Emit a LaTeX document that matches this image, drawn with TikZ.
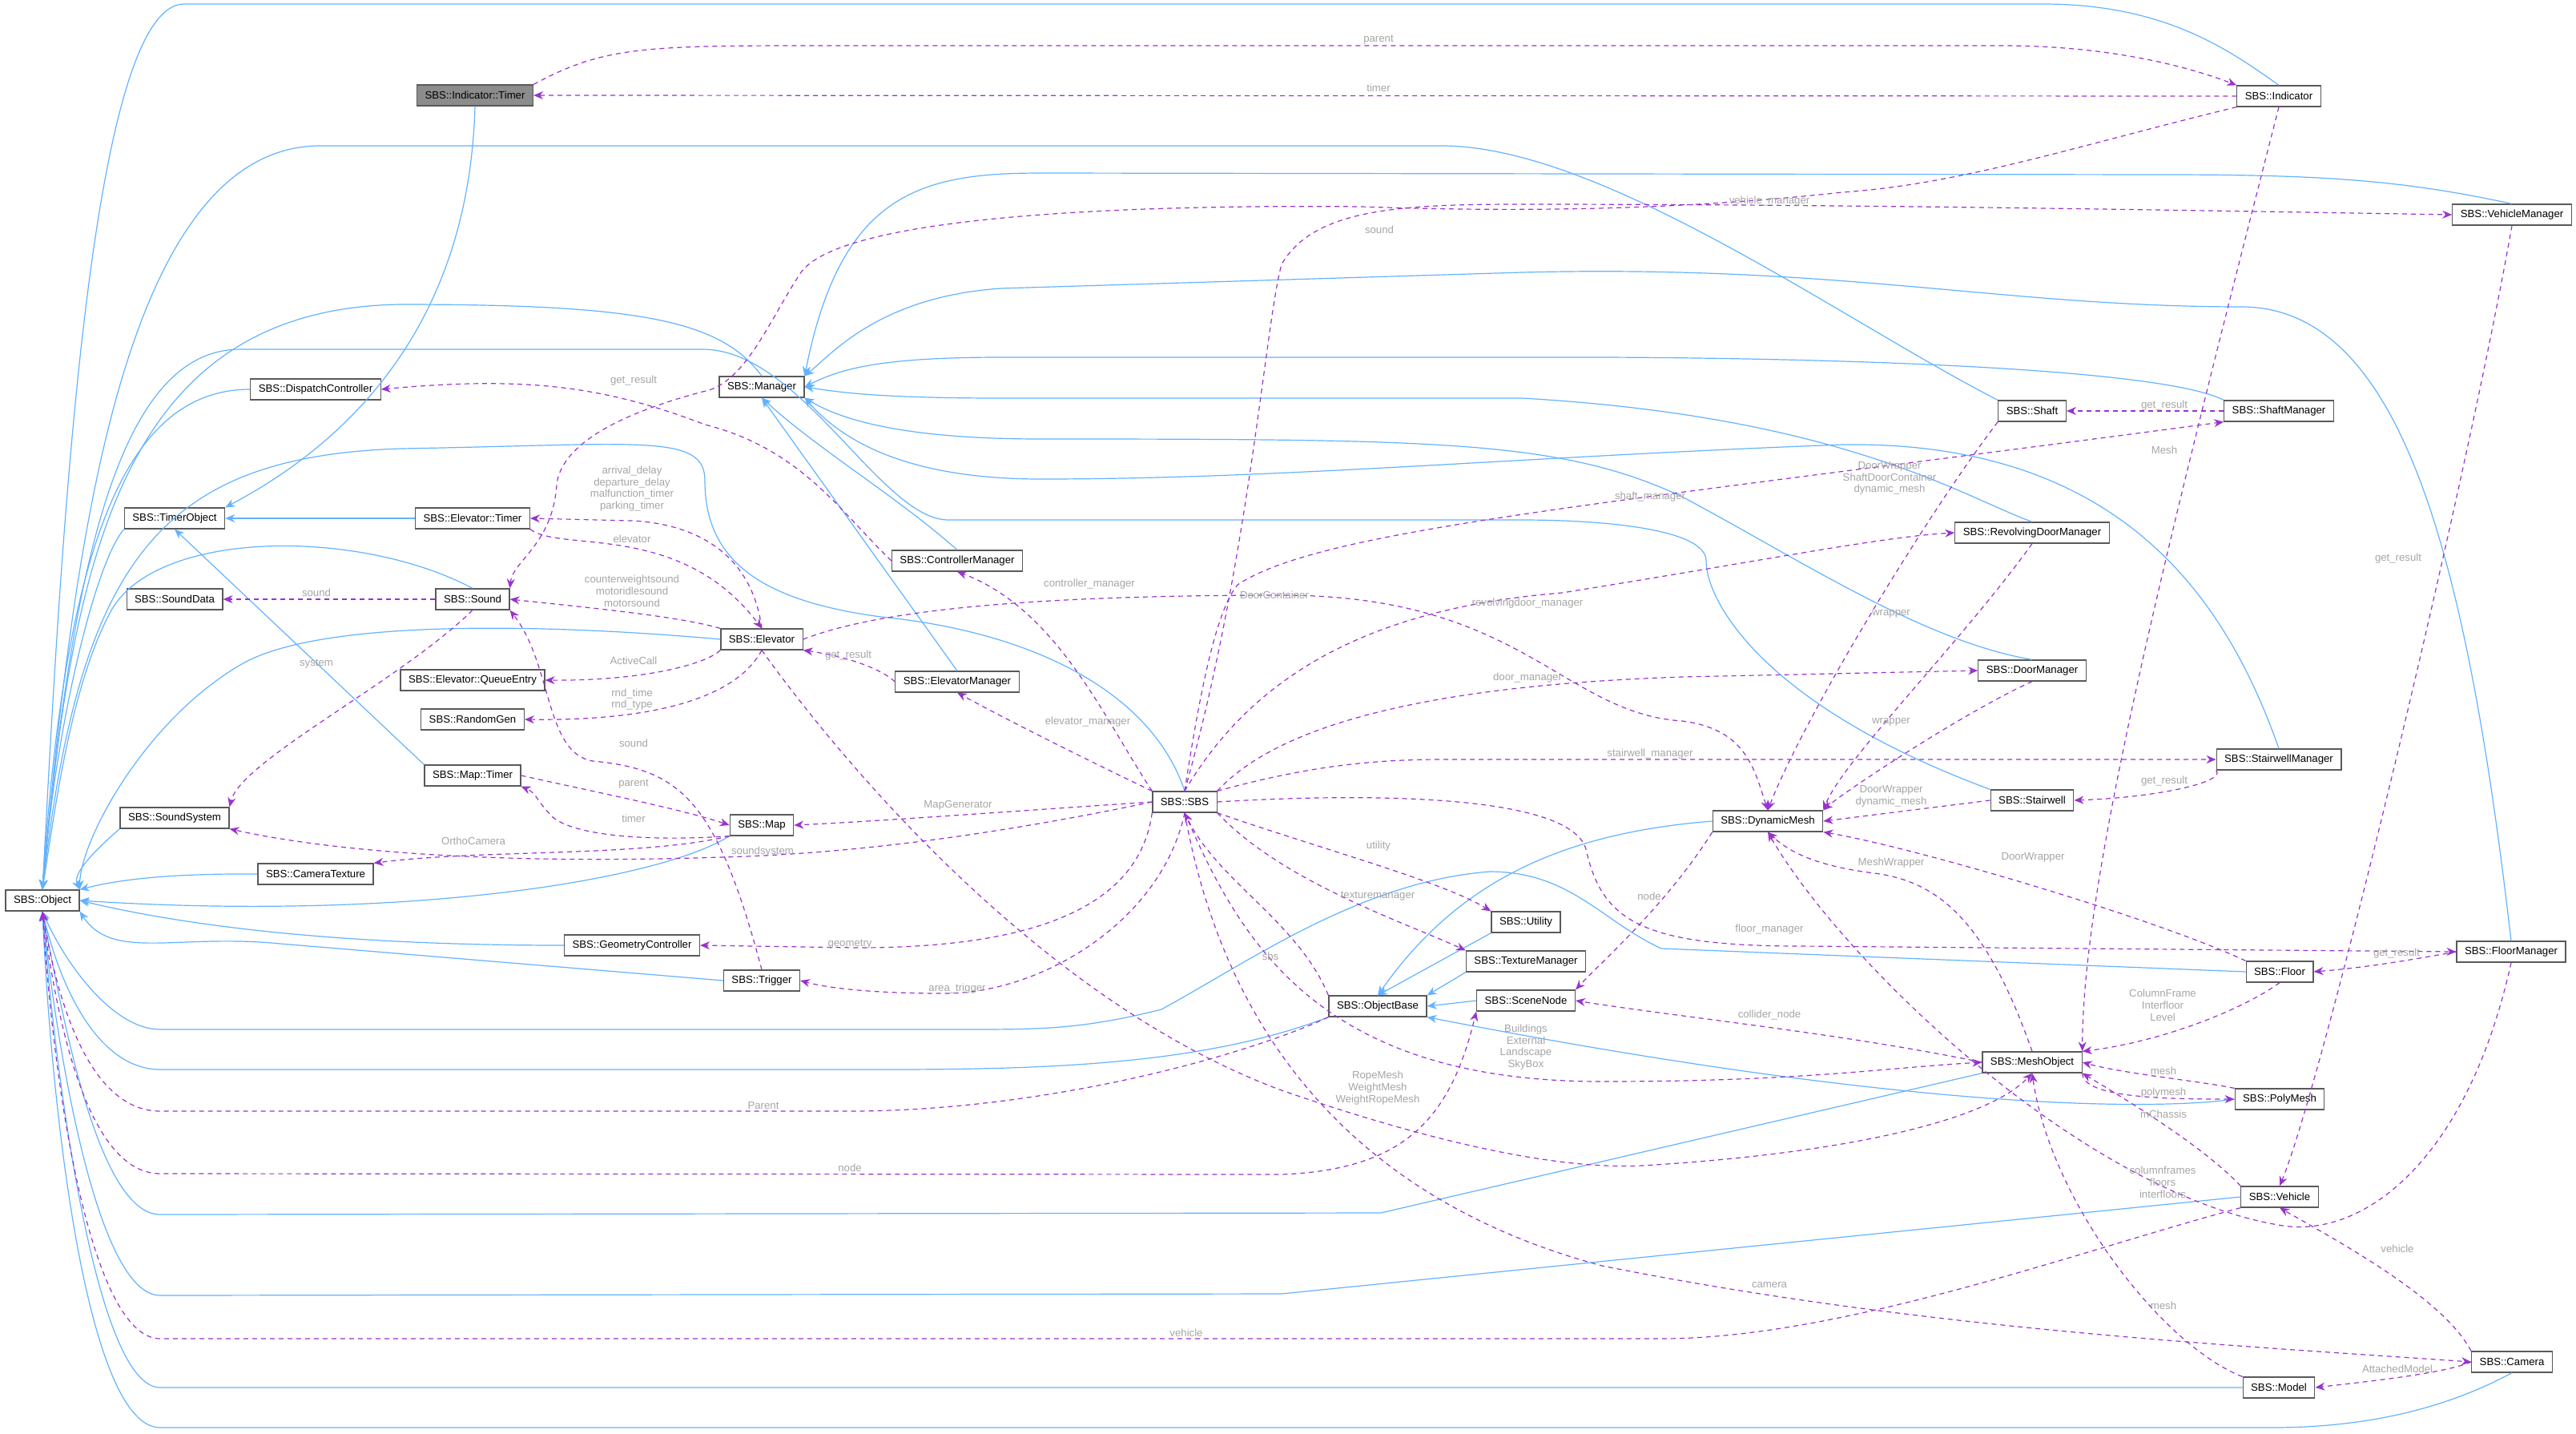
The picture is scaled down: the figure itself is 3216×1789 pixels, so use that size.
\documentclass[tikz,border=0pt]{standalone}
\usepackage{fontspec}
\setmainfont{Liberation Sans}
\usetikzlibrary{arrows.meta}
\definecolor{inhc}{RGB}{99,178,255}
\definecolor{usec}{RGB}{153,51,204}
\definecolor{lblc}{RGB}{165,165,165}
\begin{document}
\begin{tikzpicture}[x=0.5pt,y=-0.5pt,
 box/.style={draw=black!65,fill=white,line width=0.6pt,minimum height=13pt,inner xsep=5pt,inner ysep=0pt,font=\fontsize{6.6}{7.5}\selectfont},
 inh/.style={draw=inhc,line width=0.6pt,-{Stealth[length=6pt,width=5pt]}},
 use/.style={draw=usec,line width=0.6pt,dash pattern=on 3pt off 2.5pt,-{Stealth[length=6pt,width=5pt]}},
 lbl/.style={text=lblc,font=\fontsize{6.6}{7.4}\selectfont,align=center,inner sep=0pt}]
\useasboundingbox (0,0) rectangle (3216,1789);
% nodes
\node[box,fill=black!45] (IT) at (593,119) {SBS::Indicator::Timer};
\node[box] (Ind) at (2845,120) {SBS::Indicator};
\node[box] (VM) at (3136,268) {SBS::VehicleManager};
\node[box] (Man) at (951,483) {SBS::Manager};
\node[box] (DC) at (394,486) {SBS::DispatchController};
\node[box] (TO) at (218,647) {SBS::TimerObject};
\node[box] (ET) at (590,647) {SBS::Elevator::Timer};
\node[box] (Snd) at (590,748) {SBS::Sound};
\node[box] (SD) at (218,748) {SBS::SoundData};
\node[box] (Elev) at (951,798) {SBS::Elevator};
\node[box] (QE) at (590,849) {SBS::Elevator::QueueEntry};
\node[box] (RG) at (590,898) {SBS::RandomGen};
\node[box] (MT) at (590,968) {SBS::Map::Timer};
\node[box] (SS) at (218,1021) {SBS::SoundSystem};
\node[box] (Map) at (951,1030) {SBS::Map};
\node[box] (CT) at (394,1091) {SBS::CameraTexture};
\node[box] (Obj) at (53,1124) {SBS::Object};
\node[box] (GC) at (789,1180) {SBS::GeometryController};
\node[box] (Trig) at (951,1224) {SBS::Trigger};
\node[box] (CM) at (1195,700) {SBS::ControllerManager};
\node[box] (EM) at (1195,851) {SBS::ElevatorManager};
\node[box] (SBS) at (1479,1001) {SBS::SBS};
\node[box] (Shaft) at (2537,513) {SBS::Shaft};
\node[box] (ShM) at (2845,513) {SBS::ShaftManager};
\node[box] (RDM) at (2537,665) {SBS::RevolvingDoorManager};
\node[box] (DM) at (2537,837) {SBS::DoorManager};
\node[box] (SWM) at (2845,948) {SBS::StairwellManager};
\node[box] (SW) at (2537,999) {SBS::Stairwell};
\node[box] (DMesh) at (2207,1025) {SBS::DynamicMesh};
\node[box] (Util) at (1905,1151) {SBS::Utility};
\node[box] (TM) at (1905,1200) {SBS::TextureManager};
\node[box] (SN) at (1905,1249) {SBS::SceneNode};
\node[box] (OB) at (1720,1256) {SBS::ObjectBase};
\node[box] (MO) at (2537,1326) {SBS::MeshObject};
\node[box] (PM) at (2846,1372) {SBS::PolyMesh};
\node[box] (Floor) at (2846,1213) {SBS::Floor};
\node[box] (FM) at (3135,1188) {SBS::FloorManager};
\node[box] (Veh) at (2846,1494) {SBS::Vehicle};
\node[box] (Cam) at (3136,1700) {SBS::Camera};
\node[box] (Model) at (2845,1732) {SBS::Model};
% inheritance
\begin{scope}[on background layer/.style={}]
\draw[inh] (IT.south) .. controls (585,420) and (420,560) .. (TO.north east);
\draw[inh] (Ind.north) .. controls (2780,60) and (2700,5) .. (2550,5) -- (230,5) .. controls (110,5) and (75,700) .. (Obj.north);
\draw[inh] (VM.north) .. controls (3000,225) and (2900,218) .. (2700,218) -- (1300,216) .. controls (1150,216) and (1050,240) .. (Man.north east);
\draw[inh] (Man.north) .. controls (900,400) and (800,380) .. (500,380) .. controls (150,385) and (90,700) .. (Obj.north);
\draw[inh] (DC.west) .. controls (150,486) and (80,700) .. (Obj.north);
\draw[inh] (TO.south west) .. controls (120,700) and (70,900) .. (Obj.north);
\draw[inh] (ET.west) -- (TO.east);
\draw[inh] (Snd.north) .. controls (450,660) and (200,660) .. (140,760) .. controls (90,850) and (70,1000) .. (Obj.north);
\draw[inh] (Elev.west) .. controls (700,780) and (400,770) .. (300,830) .. controls (180,900) and (100,1050) .. (Obj.north east);
\draw[inh] (MT.north west) -- (TO.south);
\draw[inh] (SS.south west) .. controls (120,1060) and (90,1090) .. (Obj.north east);
\draw[inh] (Map.south west) .. controls (820,1100) and (500,1150) .. (Obj.east);
\draw[inh] (CT.west) .. controls (200,1090) and (140,1100) .. (Obj.north east);
\draw[inh] (GC.west) .. controls (450,1180) and (250,1160) .. (Obj.east);
\draw[inh] (Trig.west) -- (350,1178) .. controls (220,1165) and (140,1200) .. (Obj.south east);
\draw[inh] (CM.north) .. controls (1120,620) and (1020,560) .. (Man.south);
\draw[inh] (EM.north) -- (Man.south);
\draw[inh] (SBS.north) .. controls (1440,870) and (1300,790) .. (1100,770) .. controls (950,750) and (880,700) .. (880,600) .. controls (880,540) and (800,555) .. (500,560) .. controls (200,570) and (100,700) .. (Obj.north);
\draw[inh] (Shaft.north west) .. controls (2300,400) and (2000,182) .. (1800,182) -- (400,182) .. controls (150,182) and (90,700) .. (Obj.north);
\draw[inh] (ShM.north west) .. controls (2700,460) and (2300,447) .. (2000,446) -- (1250,446) .. controls (1100,446) and (1050,460) .. (Man.east);
\draw[inh] (RDM.north) .. controls (2450,620) and (2300,520) .. (1900,497) -- (1250,497) .. controls (1100,497) and (1050,490) .. (Man.east);
\draw[inh] (SWM.north) .. controls (2780,750) and (2650,550) .. (2300,555) .. controls (1900,570) and (1600,598) .. (1300,598) .. controls (1150,598) and (1060,560) .. (Man.south east);
\draw[inh] (DM.north) .. controls (2400,800) and (2250,700) .. (2100,620) .. controls (1950,550) and (1800,548) .. (1300,548) .. controls (1150,548) and (1060,530) .. (Man.south east);
\draw[inh] (FM.north) .. controls (3080,700) and (3000,385) .. (2800,383) .. controls (2500,383) and (2300,330) .. (1900,340) -- (1250,360) .. controls (1100,370) and (1040,440) .. (Man.north east);
\draw[inh] (SW.north west) .. controls (2200,880) and (2130,750) .. (2130,700) .. controls (2130,660) and (2000,649) .. (1900,649) -- (1184,649) .. controls (1100,649) and (1000,436) .. (877,436) -- (300,436) .. controls (150,436) and (90,700) .. (Obj.north);
\draw[inh] (DMesh.west) .. controls (1950,1040) and (1820,1100) .. (OB.north);
\draw[inh] (Util.south west) -- (OB.north);
\draw[inh] (TM.south west) -- (OB.north east);
\draw[inh] (SN.west) -- (OB.east);
\draw[inh] (PM.west) .. controls (2700,1385) and (2400,1390) .. (OB.south east);
\draw[inh] (OB.south west) .. controls (1500,1330) and (1300,1335) .. (1100,1335) -- (200,1335) .. controls (130,1335) and (80,1250) .. (Obj.south);
\draw[inh] (Floor.west) -- (2074,1184) .. controls (2000,1150) and (1960,1088) .. (1860,1088) .. controls (1700,1100) and (1560,1200) .. (1450,1260) .. controls (1350,1285) and (1300,1285) .. (1200,1285) -- (200,1285) .. controls (140,1285) and (80,1200) .. (Obj.south);
\draw[inh] (MO.south west) -- (1724,1514) -- (200,1516) .. controls (120,1516) and (75,1250) .. (Obj.south);
\draw[inh] (Veh.west) -- (1600,1615) -- (200,1617) .. controls (120,1617) and (70,1300) .. (Obj.south);
\draw[inh] (Model.west) -- (200,1732) .. controls (120,1732) and (70,1350) .. (Obj.south);
\draw[inh] (Cam.south) .. controls (3050,1760) and (2950,1782) .. (2836,1782) -- (200,1782) .. controls (110,1782) and (65,1400) .. (Obj.south);
\end{scope}
% usage
\draw[use] (Ind.west) -- (IT.east);
\draw[use] (IT.north east) .. controls (750,60) and (800,57) .. (1000,57) -- (2500,57) .. controls (2650,57) and (2750,90) .. (Ind.north west);
\draw[use] (Ind.south west) .. controls (2600,180) and (2450,230) .. (2300,240) .. controls (2100,262) and (1900,265) .. (1700,258) .. controls (1400,255) and (1050,270) .. (1000,340) .. controls (960,400) and (930,480) .. (877,489) .. controls (760,520) and (700,560) .. (695,605) .. controls (690,680) and (640,700) .. (Snd.north east);
\draw[use] (Ind.south) .. controls (2700,700) and (2600,1100) .. (MO.north east);
\draw[use] (SBS.north) .. controls (1560,700) and (1580,400) .. (1600,330) .. controls (1640,260) and (1750,255) .. (1900,255) .. controls (2300,255) and (2700,262) .. (VM.west);
\draw[use] (VM.south) .. controls (3080,600) and (2900,1350) .. (Veh.north);
\draw[use] (CM.west) .. controls (1050,640) and (1000,560) .. (880,530) .. controls (750,480) and (650,470) .. (DC.east);
\draw[use] (Elev.north) .. controls (940,700) and (880,655) .. (790,650) -- (ET.east);
\draw[use] (ET.south east) .. controls (700,690) and (850,650) .. (Elev.north);
\draw[use] (Elev.north west) .. controls (850,770) and (750,760) .. (Snd.east);
\draw[use] (Snd.west) -- (SD.east);
\draw[use] (Snd.south) .. controls (500,850) and (300,950) .. (SS.north east);
\draw[use] (Elev.south west) .. controls (880,830) and (800,850) .. (QE.east);
\draw[use] (Elev.south) .. controls (920,870) and (820,900) .. (RG.east);
\draw[use] (Trig.north) .. controls (895,1000) and (850,960) .. (740,950) .. controls (680,940) and (690,830) .. (Snd.south east);
\draw[use] (MT.east) .. controls (750,990) and (850,1010) .. (Map.west);
\draw[use] (Map.south west) .. controls (820,1050) and (720,1045) .. (690,1020) .. controls (670,1000) and (670,990) .. (MT.south east);
\draw[use] (Map.south west) .. controls (800,1070) and (600,1060) .. (CT.north east);
\draw[use] (SBS.west) .. controls (1300,1030) and (1100,1065) .. (900,1070) .. controls (600,1080) and (400,1060) .. (SS.south east);
\draw[use] (SBS.west) .. controls (1300,1010) and (1100,1025) .. (Map.east);
\draw[use] (EM.west) .. controls (1100,835) and (1060,820) .. (Elev.south east);
\draw[use] (SBS.north west) .. controls (1380,900) and (1320,760) .. (CM.south);
\draw[use] (SBS.north west) .. controls (1360,950) and (1260,900) .. (EM.south);
\draw[use] (SBS.north) .. controls (1500,850) and (1520,760) .. (1545,730) .. controls (1650,660) and (2000,630) .. (ShM.south west);
\draw[use] (Elev.east) .. controls (1100,760) and (1300,743) .. (1600,743) .. controls (1900,743) and (1950,890) .. (2100,900) .. controls (2180,910) and (2190,960) .. (DMesh.north);
\draw[use] (SBS.north) .. controls (1560,850) and (1700,760) .. (1950,740) .. controls (2200,700) and (2350,670) .. (RDM.west);
\draw[use] (SBS.north east) .. controls (1600,900) and (1800,855) .. (2100,845) -- (DM.west);
\draw[use] (SBS.north east) .. controls (1620,960) and (1700,948) .. (1800,948) -- (SWM.west);
\draw[use] (Shaft.south west) .. controls (2400,650) and (2250,900) .. (DMesh.north);
\draw[use] (ShM.west) -- (Shaft.east);
\draw[use] (RDM.south) .. controls (2450,800) and (2300,950) .. (DMesh.north east);
\draw[use] (DM.south) .. controls (2450,890) and (2300,990) .. (DMesh.north east);
\draw[use] (SWM.south west) .. controls (2780,975) and (2700,995) .. (SW.east);
\draw[use] (SW.west) -- (DMesh.east);
\draw[use] (SBS.south east) .. controls (1650,1060) and (1800,1100) .. (Util.north west);
\draw[use] (SBS.south east) .. controls (1600,1100) and (1750,1150) .. (TM.north west);
\draw[use] (SBS.south west) .. controls (1420,1150) and (1250,1183) .. (1070,1183) -- (GC.east);
\draw[use] (SBS.south) .. controls (1450,1150) and (1300,1240) .. (1180,1240) .. controls (1100,1240) and (1040,1235) .. (Trig.east);
\draw[use] (OB.north west) .. controls (1620,1150) and (1520,1100) .. (SBS.south);
\draw[use] (DMesh.south west) .. controls (2080,1130) and (2000,1200) .. (SN.north east);
\draw[use] (SBS.east) .. controls (1700,990) and (1960,990) .. (1980,1060) .. controls (2000,1150) and (2050,1181) .. (2250,1181) -- (FM.west);
\draw[use] (FM.west) .. controls (3000,1200) and (2950,1208) .. (Floor.east);
\draw[use] (Floor.north west) .. controls (2700,1150) and (2400,1060) .. (DMesh.south east);
\draw[use] (MO.north) .. controls (2480,1150) and (2420,1100) .. (2340,1090) .. controls (2260,1080) and (2230,1060) .. (DMesh.south);
\draw[use] (Floor.south) .. controls (2800,1260) and (2700,1300) .. (MO.north east);
\draw[use] (MO.west) .. controls (2300,1290) and (2100,1270) .. (SN.east);
\draw[use] (SBS.south) .. controls (1550,1180) and (1650,1350) .. (2000,1350) .. controls (2250,1350) and (2350,1333) .. (MO.west);
\draw[use] (Elev.south) .. controls (1050,950) and (1300,1250) .. (1600,1361) .. controls (1800,1430) and (1950,1460) .. (2050,1455) .. controls (2300,1440) and (2480,1400) .. (MO.south);
\draw[use] (OB.south west) .. controls (1550,1320) and (1300,1387) .. (1060,1387) -- (200,1387) .. controls (130,1387) and (80,1300) .. (Obj.south);
\draw[use] (Obj.south) .. controls (80,1350) and (130,1465) .. (200,1465) -- (1600,1466) .. controls (1750,1460) and (1810,1400) .. (SN.south west);
\draw[use] (PM.north west) .. controls (2750,1350) and (2650,1340) .. (MO.east);
\draw[use] (MO.south east) .. controls (2600,1370) and (2700,1372) .. (PM.west);
\draw[use] (Veh.north west) .. controls (2750,1430) and (2650,1370) .. (MO.south east);
\draw[use] (FM.south) .. controls (3080,1450) and (2950,1545) .. (2850,1530) .. controls (2600,1490) and (2300,1200) .. (DMesh.south);
\draw[use] (Veh.south west) .. controls (2600,1560) and (2300,1671) .. (2074,1671) -- (200,1671) .. controls (120,1671) and (70,1400) .. (Obj.south);
\draw[use] (SBS.south) .. controls (1530,1300) and (1700,1500) .. (2000,1580) .. controls (2400,1660) and (2800,1680) .. (Cam.west);
\draw[use] (Model.north west) .. controls (2700,1680) and (2560,1500) .. (MO.south);
\draw[use] (Cam.north west) .. controls (3050,1620) and (2920,1550) .. (Veh.south);
\draw[use] (Cam.west) .. controls (3050,1715) and (2950,1725) .. (Model.east);
% labels
\node[lbl] (l1) at (1721,50) {parent};
\node[lbl] (l2) at (1721,110) {timer};
\node[lbl] (l3) at (1722,287) {sound};
\node[lbl] (l4) at (2209,251) {vehicle\_manager};
\node[lbl] (l5) at (791,475) {get\_result};
\node[lbl] (l6) at (789,610) {arrival\_delay\\departure\_delay\\malfunction\_timer\\parking\_timer};
\node[lbl] (l7) at (789,673) {elevator};
\node[lbl] (l8) at (789,738) {counterweightsound\\motoridlesound\\motorsound};
\node[lbl] (l9) at (395,740) {sound};
\node[lbl] (l10) at (395,829) {system};
\node[lbl] (l11) at (791,825) {ActiveCall};
\node[lbl] (l12) at (789,873) {rnd\_time\\rnd\_type};
\node[lbl] (l13) at (791,928) {sound};
\node[lbl] (l14) at (791,979) {parent};
\node[lbl] (l15) at (791,1022) {timer};
\node[lbl] (l16) at (591,1050) {OrthoCamera};
\node[lbl] (l17) at (952,1063) {soundsystem};
\node[lbl] (l18) at (1059,818) {get\_result};
\node[lbl] (l19) at (1360,729) {controller\_manager};
\node[lbl] (l20) at (1591,743) {DoorContainer};
\node[lbl] (l21) at (2060,620) {shaft\_manager};
\node[lbl] (l22) at (1907,753) {revolvingdoor\_manager};
\node[lbl] (l23) at (1907,846) {door\_manager};
\node[lbl] (l24) at (2060,941) {stairwell\_manager};
\node[lbl] (l25) at (1358,901) {elevator\_manager};
\node[lbl] (l26) at (1196,1005) {MapGenerator};
\node[lbl] (l27) at (1721,1056) {utility};
\node[lbl] (l28) at (2359,597) {DoorWrapper\\ShaftDoorContainer\\dynamic\_mesh};
\node[lbl] (l29) at (2702,506) {get\_result};
\node[lbl] (l30) at (2702,562) {Mesh};
\node[lbl] (l31) at (2994,697) {get\_result};
\node[lbl] (l32) at (2361,766) {wrapper};
\node[lbl] (l33) at (2361,901) {wrapper};
\node[lbl] (l34) at (2702,975) {get\_result};
\node[lbl] (l35) at (2361,994) {DoorWrapper\\dynamic\_mesh};
\node[lbl] (l36) at (2361,1077) {MeshWrapper};
\node[lbl] (l37) at (2538,1070) {DoorWrapper};
\node[lbl] (l38) at (1720,1119) {texturemanager};
\node[lbl] (l39) at (2059,1119) {node};
\node[lbl] (l40) at (2209,1160) {floor\_manager};
\node[lbl] (l41) at (2992,1190) {get\_result};
\node[lbl] (l42) at (2700,1255) {ColumnFrame\\Interfloor\\Level};
\node[lbl] (l43) at (2209,1267) {collider\_node};
\node[lbl] (l44) at (1905,1307) {Buildings\\External\\Landscape\\SkyBox};
\node[lbl] (l45) at (1720,1358) {RopeMesh\\WeightMesh\\WeightRopeMesh};
\node[lbl] (l46) at (2701,1337) {mesh};
\node[lbl] (l47) at (2701,1364) {polymesh};
\node[lbl] (l48) at (2701,1391) {mChassis};
\node[lbl] (l49) at (2700,1476) {columnframes\\floors\\interfloors};
\node[lbl] (l50) at (2993,1559) {vehicle};
\node[lbl] (l51) at (2209,1604) {camera};
\node[lbl] (l52) at (2701,1630) {mesh};
\node[lbl] (l53) at (2993,1709) {AttachedModel};
\node[lbl] (l54) at (1061,1179) {geometry};
\node[lbl] (l55) at (1195,1234) {area\_trigger};
\node[lbl] (l56) at (1586,1194) {sbs};
\node[lbl] (l57) at (953,1380) {Parent};
\node[lbl] (l58) at (1061,1458) {node};
\node[lbl] (l59) at (1481,1664) {vehicle};
\end{tikzpicture}
\end{document}
